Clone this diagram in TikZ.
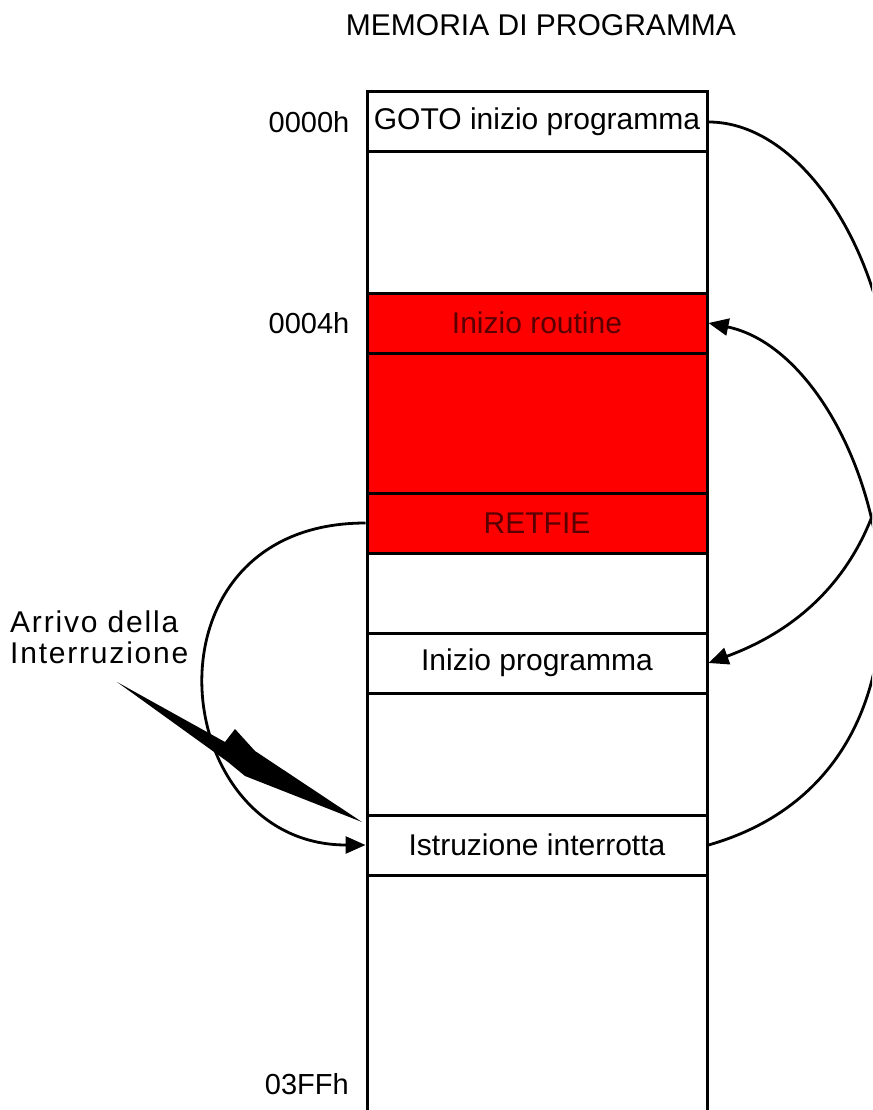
\documentclass[tikz,border=0pt]{standalone}
\usepackage{fontspec}
\setmainfont{Liberation Sans}
\usepackage{tikz}
\usetikzlibrary{positioning, arrows.meta}
\tikzstyle{memCell}=[draw, line width=3pt, minimum width=340pt, inner sep=0pt, font=\fontsize{30}{32}\selectfont]
\tikzstyle{redCell}=[memCell, fill=red, text=red!35!black]
\tikzstyle{addrLabel}=[anchor=east, inner sep=0pt, font=\fontsize{29}{31}\selectfont]
\tikzstyle{jumpArrow}=[-{Triangle[length=20pt,width=17pt]}, line width=2.8pt]

\begin{document}
\begin{tikzpicture}[x=1pt, y=-1pt]
    \clip (0,0) rectangle (872,1110);
    \node[font=\fontsize{30}{32}\selectfont] (title) at (541,25) {MEMORIA DI PROGRAMMA};

    \node[memCell, minimum height=60pt] (m0) at (537,122) {GOTO inizio programma};
    \node[memCell, minimum height=141pt] (m1) at (537,222.5) {};
    \node[redCell, minimum height=60pt] (m2) at (537,323) {Inizio routine};
    \node[redCell, minimum height=140pt] (m3) at (537,423) {};
    \node[redCell, minimum height=60pt] (m4) at (537,523) {RETFIE};
    \node[memCell, minimum height=80pt] (m5) at (537,593) {};
    \node[memCell, minimum height=60pt] (m6) at (537,663) {Inizio programma};
    \node[memCell, minimum height=122pt] (m7) at (537,754) {};
    \node[memCell, minimum height=60pt] (m8) at (537,845) {Istruzione interrotta};
    \node[memCell, minimum height=270pt] (m9) at (537,1010) {};

    \node[addrLabel, left=16pt of m0] (a0) {0000h};
    \node[addrLabel, left=16pt of m2] (a1) {0004h};
    \node[addrLabel] (a2) at (349,1084) {03FFh};

    \node[anchor=west, align=left, inner sep=0pt, font=\fontsize{30}{31}\selectfont\addfontfeature{LetterSpace=6}] (irq) at (10,637) {Arrivo della\\Interruzione};

    % fulmine
    \fill (117,682) -- (225,742) -- (235,729) -- (255,751) -- (362,822) -- (245,776) -- (228,762) -- cycle;

    \draw[jumpArrow] (m0.east) .. controls +(170,0) and +(300,-110) .. (m6.east);
    \draw[jumpArrow] (m8.east) .. controls +(280,-80) and +(170,35) .. (m2.east);
    \draw[jumpArrow] (m4.west) .. controls +(-230,0) and +(-200,0) .. (m8.west);
\end{tikzpicture}
\end{document}
